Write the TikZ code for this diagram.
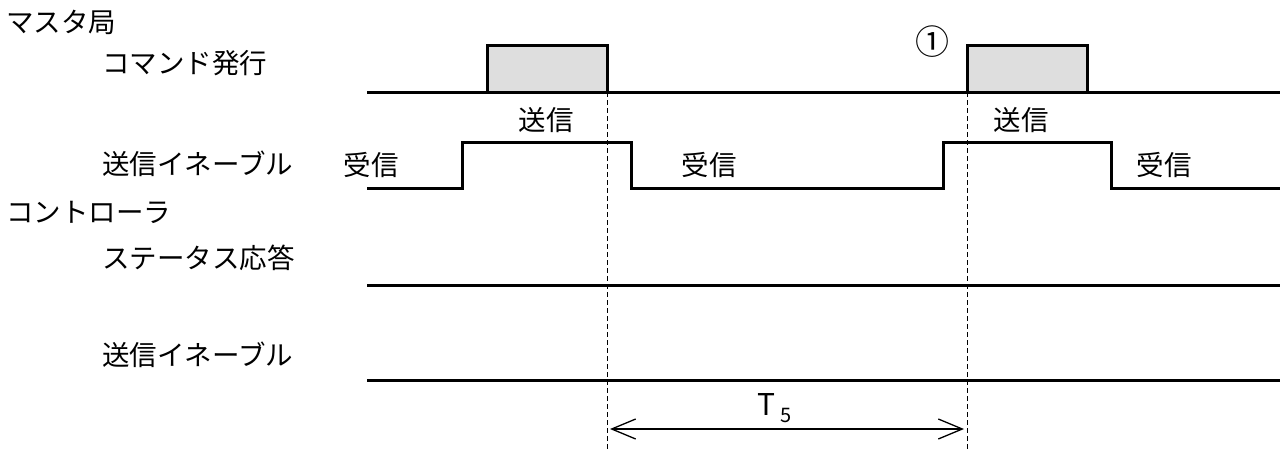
\documentclass[tikz,border=0pt]{standalone}
\usepackage{fontspec}
\setmainfont{Noto Sans CJK JP}
\usetikzlibrary{arrows.meta}
\begin{document}
\begin{tikzpicture}[x=1pt,y=-1pt,
  lbl/.style={anchor=west,inner sep=0pt,font=\fontsize{27.5}{30}\selectfont},
  txt/.style={inner sep=0pt,font=\fontsize{27.5}{30}\selectfont},
  sig/.style={line width=3pt},
  guide/.style={line width=1pt,dash pattern=on 5pt off 3pt},
  dim/.style={line width=1.3pt,{Straight Barb[length=24pt,width=20pt,line width=1.3pt]}-{Straight Barb[length=24pt,width=20pt,line width=1.3pt]}}]
\useasboundingbox (0,0) rectangle (1282,450);
% labels
\node[lbl] (master) at (6,22) {マスタ局};
\node[lbl] (cmd) at (102,63) {コマンド発行};
\node[lbl] (men) at (102,164) {送信イネーブル};
\node[lbl] (ctrl) at (6,212) {コントローラ};
\node[lbl] (stat) at (102,258) {ステータス応答};
\node[lbl] (cen) at (102,355) {送信イネーブル};
% command line
\coordinate (c0) at (367,92);
\coordinate (c1) at (1280,92);
\draw[sig,fill=black!13] (487,92) rectangle (607,45);
\draw[sig,fill=black!13] (967,92) rectangle (1087,45);
\draw[sig] (c0) -- (c1);
\node[inner sep=0pt,font=\fontsize{34}{36}\selectfont] (one) at (932,42) {①};
% master enable
\draw[sig] (367,188) -- (462,188) -- (462,142) -- (631,142) -- (631,188) -- (943,188) -- (943,142) -- (1111,142) -- (1111,188) -- (1280,188);
\node[txt] (tx1) at (546,120) {送信};
\node[txt] (tx2) at (1021,120) {送信};
\node[txt] (rx1) at (371,165) {受信};
\node[txt] (rx2) at (709,165) {受信};
\node[txt] (rx3) at (1164,165) {受信};
% controller lines
\draw[sig] (367,285) coordinate (s0) -- (1280,285) coordinate (s1);
\draw[sig] (367,380) coordinate (e0) -- (1280,380) coordinate (e1);
% guides
\coordinate (g1t) at (607,92);
\coordinate (g1b) at (607,450);
\coordinate (g2t) at (967,92);
\coordinate (g2b) at (967,450);
\draw[guide] (g1t) -- (g1b);
\draw[guide] (g2t) -- (g2b);
% T5
\coordinate (a0) at (610,429);
\coordinate (a1) at (964,429);
\draw[dim] (a0) -- (a1);
\node[inner sep=0pt,anchor=base west,font=\fontsize{30}{32}\selectfont] (t5) at (757,415) {T\hspace{5pt}\raisebox{-7pt}{\fontsize{20}{22}\selectfont 5}};
\end{tikzpicture}
\end{document}
